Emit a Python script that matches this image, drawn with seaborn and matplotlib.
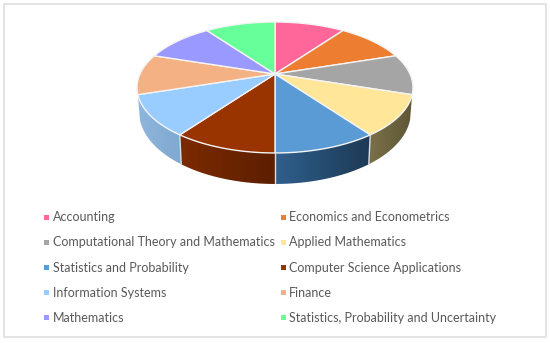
import numpy as np
import seaborn as sns
import matplotlib.pyplot as plt
from matplotlib.colors import LinearSegmentedColormap
from matplotlib.lines import Line2D
from matplotlib.patches import Polygon, Rectangle

# Fields, clockwise from the top of the pie
fields = ["Accounting", "Economics and Econometrics",
          "Computational Theory and Mathematics", "Applied Mathematics",
          "Statistics and Probability", "Computer Science Applications",
          "Information Systems", "Finance",
          "Mathematics", "Statistics, Probability and Uncertainty"]
shares = [10, 10, 10, 10, 10, 10, 10, 10, 10, 10]
top_colors = ["#FF6699", "#ED7D31", "#A5A5A5", "#FFE699", "#5B9BD5",
              "#993300", "#99CCFF", "#F4B183", "#9999FF", "#66FF99"]
# wall colour at the left and right end of each visible side
wall_left = {3: "#7A7048", 4: "#2F5F8C", 5: "#7C2A00", 6: "#8FB6DC"}
wall_right = {3: "#5E5636", 4: "#1E3A55", 5: "#5C1F00", 6: "#80A8D0"}

sns.set_theme(style="white")
plt.rcParams['font.family'] = ['Lato', 'DejaVu Sans']

palette = sns.color_palette(top_colors)

# perspective tilt of the disc, in pixels
CX, CY = 275, 74
RX, RY, K = 135, 62.7, 0.206


def project(theta, lower=False):
    u, v = np.sin(theta), np.cos(theta)
    s = 1 / (1 + K * v)
    x = CX + RX * u * s
    y = CY - RY * v * s
    if lower:
        x = CX + RX * 0.985 * u * s
        y = y + 22.5 - 8.5 * v
    return x, y


fig, ax = plt.subplots(figsize=(5.5, 3.43), dpi=100)
fig.subplots_adjust(0, 0, 1, 1)
ax.axis("off")
ax.add_patch(Rectangle((4, 4), 542, 333, fc="white", ec="#E2E2E2", lw=1.3, zorder=-1))

edges = np.radians(np.cumsum([0] + shares) * 360 / sum(shares))

# side walls first, gradient image clipped to each wall outline
for i in wall_left:
    t = np.linspace(edges[i], edges[i + 1], 40)
    xu, yu = project(t)
    xl, yl = project(t, lower=True)
    pts = np.r_[np.c_[xu, yu], np.c_[xl, yl][::-1]]
    wall = Polygon(pts, fc="none", ec="none")
    ax.add_patch(wall)
    cmap = LinearSegmentedColormap.from_list("wall", [wall_left[i], wall_right[i]])
    im = ax.imshow(np.linspace(0, 1, 64)[None, :], cmap=cmap, aspect="auto",
                   extent=(pts[:, 0].min(), pts[:, 0].max(), pts[:, 1].max(), pts[:, 1].min()))
    im.set_clip_path(wall)

# light seams between the walls
for t in edges[4:7]:
    xu, yu = project(t)
    xl, yl = project(t, lower=True)
    ax.plot([xu, xl], [yu, yl], color="#D8DEE4", lw=1.0, solid_capstyle="butt")

# top of the disc
for i, color in enumerate(palette):
    t = np.linspace(edges[i], edges[i + 1], 40)
    xs, ys = project(t)
    pts = np.r_[[[CX, CY]], np.c_[xs, ys]]
    ax.add_patch(Polygon(pts, fc=color, ec="#F4F4F4", lw=1.0, joinstyle="round"))

ax.set_xlim(0, 550)
ax.set_ylim(343, 0)
ax.set_aspect("auto")

# legend runs across the rows, matplotlib fills columns
handles = [Line2D([], [], ls="", marker="s", ms=3.6, color=c, mew=0) for c in palette]
order = list(range(0, 10, 2)) + list(range(1, 10, 2))
leg = ax.legend([handles[i] for i in order], [fields[i] for i in order], ncol=2,
                loc="upper left", bbox_to_anchor=(0.077, 0.384),
                frameon=False, fontsize=9.0, labelcolor="#595959",
                labelspacing=1.05, columnspacing=0.35, handlelength=0.6,
                handletextpad=0.22, borderpad=0, borderaxespad=0)

fig.savefig("out.png", dpi=100)
